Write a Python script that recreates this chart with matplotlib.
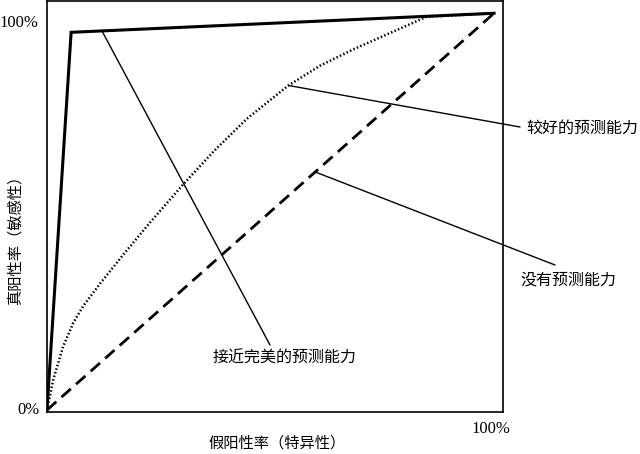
import matplotlib
matplotlib.use('Agg')
import matplotlib.pyplot as plt
import numpy as np

plt.rcParams['font.family'] = ['Noto Sans CJK SC', 'DejaVu Sans']

# 各条 ROC 曲线 (假阳性率, 真阳性率)
perfect_fpr = [0.0, 0.054, 1.0]
perfect_tpr = [0.0, 0.952, 1.0]

good_fpr = [0.0, 0.014, 0.036, 0.059, 0.081, 0.119, 0.171, 0.230, 0.305, 0.372,
            0.447, 0.540, 0.611, 0.685, 0.775, 0.849, 1.0]
good_tpr = [0.0, 0.076, 0.160, 0.220, 0.262, 0.319, 0.392, 0.472, 0.569, 0.651,
            0.734, 0.818, 0.868, 0.909, 0.954, 0.991, 1.0]

none_fpr = [0.0, 1.0]
none_tpr = [0.0, 1.0]

labels = ['接近完美的预测能力', '较好的预测能力', '没有预测能力']
x_label = '假阳性率（特异性）'
y_label = '真阳性率（敏感性）'

fig = plt.figure(figsize=(6.4, 4.54), dpi=100)
ax = fig.add_axes([0.0734, 0.0925, 0.7125, 0.9045])

ax.plot(perfect_fpr, perfect_tpr, color='black', lw=2.2, solid_joinstyle='miter')
ax.plot(good_fpr, good_tpr, color='black', lw=1.8, linestyle=(0, (0.6, 0.9)))
ax.plot(none_fpr, none_tpr, color='black', lw=2.0, linestyle=(0, (4.5, 2.5)))

ax.set_xlim(0, 1.020)
ax.set_ylim(-0.005, 1.030)
ax.set_xticks([])
ax.set_yticks([])
for s in ax.spines.values():
    s.set_linewidth(1.2)

# 标注线: 曲线上的点 -> 图中线端点
x_p = 0.123
y_p = np.interp(x_p, perfect_fpr, perfect_tpr)
targets = [
    ((x_p, y_p), (270 / 640, 1 - 345 / 454)),
    ((good_fpr[11], good_tpr[11]), (520 / 640, 1 - 127 / 454)),
    ((0.6, 0.6), (555 / 640, 1 - 265 / 454)),
]
for xy, end in targets:
    ax.annotate('', xy=xy, xycoords='data', xytext=end, textcoords='figure fraction',
                arrowprops=dict(arrowstyle='-', lw=1.0, color='black',
                                shrinkA=0, shrinkB=0), annotation_clip=False)

fs = 11.5
fig.text(213 / 640, 1 - 358 / 454, labels[0], fontsize=fs, va='center', ha='left')
fig.text(526 / 640, 1 - 128 / 454, labels[1], fontsize=fs, va='center', ha='left')
fig.text(520 / 640, 1 - 280 / 454, labels[2], fontsize=fs, va='center', ha='left')

fig.text(277 / 640, 1 - 443 / 454, x_label, fontsize=11, va='center', ha='center')
fig.text(15 / 640, 1 - 236 / 454, y_label, fontsize=11, va='center', ha='center',
         rotation=90)

pct_font = dict(family='Liberation Serif', fontsize=12)
fig.text(38 / 640, 1 - 23 / 454, '100%', va='center', ha='right', **pct_font)
fig.text(40 / 640, 1 - 410 / 454, '0%', va='center', ha='right', **pct_font)
fig.text(491 / 640, 1 - 429 / 454, '100%', va='center', ha='center', **pct_font)

fig.savefig('out.png', dpi=100, facecolor='white')
